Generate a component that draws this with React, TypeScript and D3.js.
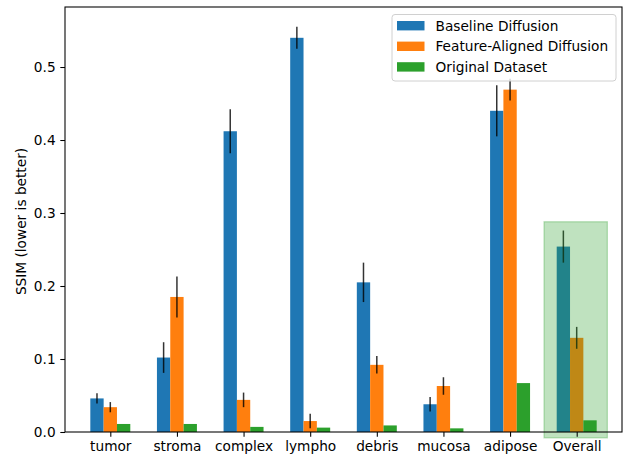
import React, { useEffect, useRef } from 'react';
import * as d3 from 'd3';

const categories = ['tumor', 'stroma', 'complex', 'lympho', 'debris', 'mucosa', 'adipose', 'Overall'];
const baselineVals = [0.046, 0.102, 0.412, 0.540, 0.205, 0.038, 0.440, 0.254];
const baselineErr = [0.007, 0.021, 0.030, 0.015, 0.027, 0.010, 0.035, 0.022];
const alignedVals = [0.034, 0.185, 0.044, 0.015, 0.092, 0.063, 0.469, 0.129];
const alignedErr = [0.007, 0.028, 0.010, 0.010, 0.012, 0.012, 0.015, 0.015];
const originalVals = [0.011, 0.011, 0.007, 0.006, 0.009, 0.005, 0.067, 0.016];
const yTicks = [0, 0.1, 0.2, 0.3, 0.4, 0.5];
const seriesNames = ['Baseline Diffusion', 'Feature-Aligned Diffusion', 'Original Dataset'];
const seriesColors = ['#1f77b4', '#ff7f0e', '#2ca02c'];
// highlight box around "Overall" group, in data units
const highlightX = [6.51, 7.46];
const highlightY = [-0.008, 0.288];

const FONT = 'DejaVu Sans, sans-serif';
const FS = '13.7px';

export default function App() {
  const svgRef = useRef<SVGSVGElement>(null);

  useEffect(() => {
    const width = 624;
    const height = 458;
    const margin = { top: 7, right: 2, bottom: 26, left: 65 };

    const svg = d3.select(svgRef.current);
    svg.selectAll('*').remove();
    svg.attr('width', width).attr('height', height);

    const x = d3.scaleLinear().domain([-0.68, 7.68]).range([margin.left, width - margin.right]);
    const y = d3.scaleLinear().domain([0, 0.5822]).range([height - margin.bottom, margin.top]);
    const barW = x(0.2) - x(0);

    const series = [
      { vals: baselineVals, err: baselineErr, off: -0.2 },
      { vals: alignedVals, err: alignedErr, off: 0 },
      { vals: originalVals, err: null as number[] | null, off: 0.2 },
    ];

    series.forEach((s, k) => {
      svg.append('g').selectAll('rect').data(s.vals).join('rect')
        .attr('x', (_, i) => x(i + s.off) - barW / 2)
        .attr('width', barW)
        .attr('y', d => y(d))
        .attr('height', d => y(0) - y(d))
        .attr('fill', seriesColors[k]);
    });

    series.forEach(s => {
      if (!s.err) return;
      const err = s.err;
      svg.append('g').selectAll('line').data(s.vals).join('line')
        .attr('x1', (_, i) => x(i + s.off)).attr('x2', (_, i) => x(i + s.off))
        .attr('y1', (d, i) => y(d - err[i])).attr('y2', (d, i) => y(d + err[i]))
        .attr('stroke', '#000').attr('stroke-opacity', 0.8).attr('stroke-width', 1.5);
    });

    // highlight rectangle over Overall
    svg.append('rect')
      .attr('x', x(highlightX[0])).attr('width', x(highlightX[1]) - x(highlightX[0]))
      .attr('y', y(highlightY[1])).attr('height', y(highlightY[0]) - y(highlightY[1]))
      .attr('fill', '#2ca02c').attr('fill-opacity', 0.3)
      .attr('stroke', '#2ca02c').attr('stroke-opacity', 0.3).attr('stroke-width', 1.3);

    // axes
    const yAxis = svg.append('g').attr('transform', `translate(${margin.left},0)`)
      .call(d3.axisLeft(y).tickValues(yTicks).tickFormat(d3.format('.1f')).tickSizeOuter(0).tickSize(4.7).tickPadding(4.7));
    const xAxis = svg.append('g').attr('transform', `translate(0,${height - margin.bottom})`)
      .call(d3.axisBottom(x).tickValues(d3.range(categories.length)).tickFormat(i => categories[i as number]).tickSizeOuter(0).tickSize(4.7).tickPadding(4.2));
    [yAxis, xAxis].forEach(g => {
      g.select('.domain').remove();
      g.selectAll('line').attr('stroke', '#000').attr('stroke-width', 1.07);
      g.selectAll('text').attr('fill', '#000').style('font-size', FS).style('font-family', FONT);
    });

    // spines
    svg.append('rect')
      .attr('x', margin.left).attr('y', margin.top)
      .attr('width', width - margin.right - margin.left).attr('height', height - margin.bottom - margin.top)
      .attr('fill', 'none').attr('stroke', '#000').attr('stroke-width', 1.07);

    svg.append('text')
      .attr('transform', `translate(21.5,221.5) rotate(-90)`)
      .attr('text-anchor', 'middle').attr('dominant-baseline', 'middle')
      .style('font-size', FS).style('font-family', FONT).attr('fill', '#000')
      .text('SSIM (lower is better)');

    // legend
    const lg = svg.append('g');
    lg.append('rect').attr('x', 392).attr('y', 14.5).attr('width', 224).attr('height', 66.5)
      .attr('rx', 3).attr('fill', '#fff').attr('fill-opacity', 0.8)
      .attr('stroke', '#d0d0d0').attr('stroke-width', 1);
    seriesNames.forEach((name, k) => {
      const cy = 25.7 + k * 20.6;
      lg.append('rect').attr('x', 397).attr('y', cy - 4.7).attr('width', 27.5).attr('height', 9.4)
        .attr('fill', seriesColors[k]);
      lg.append('text').attr('x', 435.5).attr('y', cy).attr('dominant-baseline', 'central')
        .style('font-size', FS).style('font-family', FONT).attr('fill', '#000')
        .text(name);
    });
  }, []);

  return (
    <div style={{ position: 'fixed', left: 0, top: 0, width: 624, height: 458, background: 'white' }}>
      <svg ref={svgRef} style={{ display: 'block' }}></svg>
    </div>
  );
}
